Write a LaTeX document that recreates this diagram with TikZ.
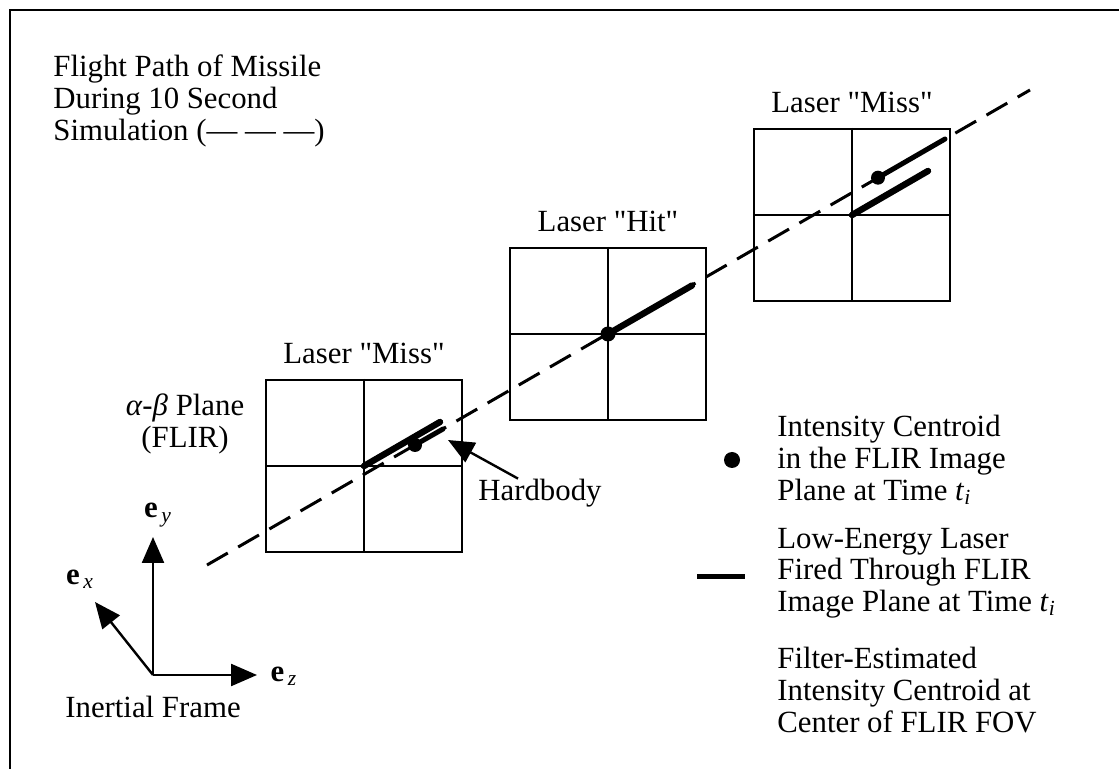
\documentclass[tikz,border=0pt]{standalone}
\usepackage{fontspec}
\setmainfont{Liberation Serif}[Ligatures=TeXOff]
\usetikzlibrary{arrows.meta, positioning}

\begin{document}
\begin{tikzpicture}[
    x=0.5pt, y=-0.5pt,
    >={Triangle[length=13pt, width=11pt]},
    every node/.style={font=\fontsize{15.4}{15.8}\selectfont, inner sep=0pt},
    fovbox/.style={draw, line width=1.2pt, minimum width=98pt, minimum height=86pt},
    flightpath/.style={line width=1.5pt, dash pattern=on 12pt off 6pt},
    laser/.style={line width=3.2pt, line cap=round},
    hardbody/.style={line width=2.5pt, line cap=round},
    centroid/.style={circle, fill, minimum size=7pt},
    axis/.style={->, line width=1.2pt},
]
\useasboundingbox (0,0) rectangle (1119,769);

% Frame (left and top edges only)
\draw[line width=1.2pt] (10,769) -- (10,10) -- (1119,10);

% Title
\node[align=left, anchor=west] (title) at (53,101)
    {Flight Path of Missile\\During 10 Second\\Simulation (— — —)};

% FLIR fields of view
\node[fovbox] (fov1) at (364,466) {};
\node[fovbox] (fov2) at (608,334) {};
\node[fovbox] (fov3) at (852,215) {};
\foreach \f in {fov1, fov2, fov3}
    \draw[line width=1.2pt] (\f.north) -- (\f.south) (\f.west) -- (\f.east);

\node[above=7.5pt of fov1] (lbl1) {Laser "Miss"};
\node[above=7.5pt of fov2] (lbl2) {Laser "Hit"};
\node[above=7.5pt of fov3] (lbl3) {Laser "Miss"};

\node[align=center] (plane) at (185,424) {\textit{α}-\textit{β} Plane\\(FLIR)};

% Flight path
\coordinate (pathS) at (207,565);
\coordinate (pathE) at (1030,90);
\draw[flightpath] (pathS) -- (pathE);

% Laser shots from the centre of each FOV
\coordinate (laser1) at (440,422);
\coordinate (laser2) at (692,285.5);
\coordinate (laser3) at (928,171);
\draw[laser] (fov1.center) -- (laser1);
\draw[laser] (fov2.center) -- (laser2);
\draw[laser] (fov3.center) -- (laser3);

% Hardbody / intensity centroid on the path
\node[centroid] (dot1) at (415,445) {};
\node[centroid, minimum size=7.5pt] (dot2) at (608,334) {};
\node[centroid] (dot3) at (878,177.7) {};
\coordinate (tail1) at (443,429);
\coordinate (tail3) at (945,139);
\draw[hardbody] (dot1.center) -- (tail1);
\draw[hardbody] (dot3.center) -- (tail3);

\node (hardbody) at (540,493) {Hardbody};
\coordinate (hbtip) at (448,440);
\draw[->, line width=1.2pt] ([xshift=-11pt]hardbody.north) -- (hbtip);

% Inertial frame
\coordinate (origin) at (153,675);
\coordinate (eytip) at (153,537);
\coordinate (extip) at (95,602);
\coordinate (eztip) at (257,675);
\draw[axis] (origin) -- (eytip);
\draw[axis] (origin) -- (extip);
\draw[axis] (origin) -- (eztip);
\node (eylbl) at (158,515) {\textbf{e}\textsubscript{\,\textit{y}}};
\node (exlbl) at (80,579) {\textbf{e}\textsubscript{\,\textit{x}}};
\node (ezlbl) at (284,676) {\textbf{e}\textsubscript{\,\textit{z}}};
\node (frame) at (153,707) {Inertial Frame};

% Key
\node[centroid, minimum size=8pt] (keydot) at (732,460) {};
\node[align=left, anchor=west] (keydottxt) at (777,460)
    {Intensity Centroid\\in the FLIR Image\\Plane at Time \textit{t}\textsubscript{\textit{i}}};
\coordinate (keyL) at (697,577);
\coordinate (keyR) at (745,577);
\draw[line width=2.5pt] (keyL) -- (keyR);
\node[align=left, anchor=west] (keylasertxt) at (777,573)
    {Low-Energy Laser\\Fired Through FLIR\\Image Plane at Time \textit{t}\textsubscript{\textit{i}}};
\node[align=left, anchor=west] (keyfiltertxt) at (777,690)
    {Filter-Estimated\\Intensity Centroid at\\Center of FLIR FOV};

\end{tikzpicture}
\end{document}
